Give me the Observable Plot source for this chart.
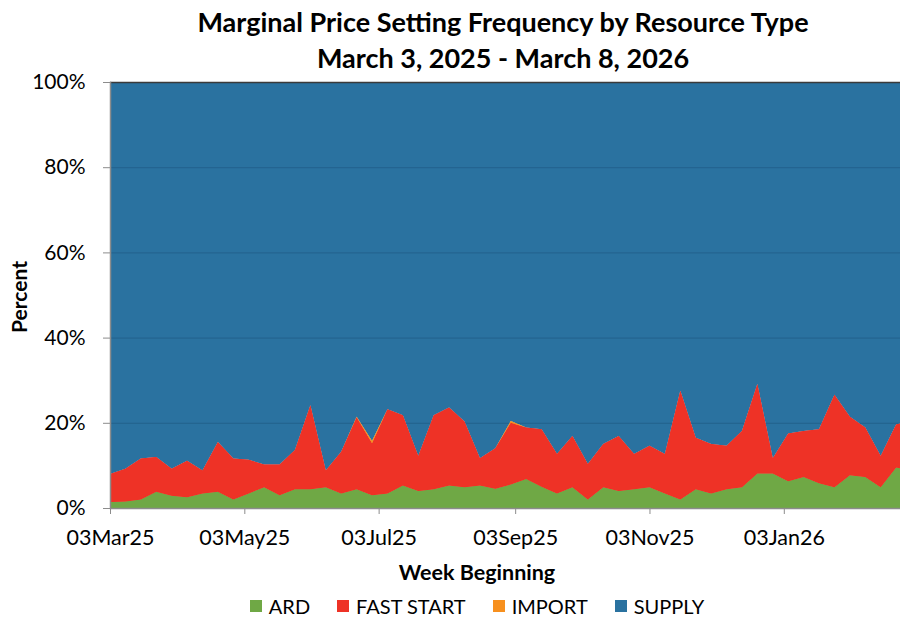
<!DOCTYPE html>
<html>
<head>
<meta charset="utf-8">
<script src="https://cdn.jsdelivr.net/npm/d3@7"></script>
<script src="https://cdn.jsdelivr.net/npm/@observablehq/plot@0.6"></script>
<style>
  html, body { margin: 0; padding: 0; background: #fff; }
  #wrap { position: relative; width: 900px; height: 620px; overflow: hidden; font-family: Lato, "Open Sans", sans-serif; color: #000; }
  #title { position: absolute; left: 106px; width: 794px; top: 4px; text-align: center; font-weight: 700; font-size: 27px; line-height: 36px; white-space: nowrap; }
  #chart { position: absolute; left: 0; top: 0; }
  #xlabel { position: absolute; left: 0; width: 954px; top: 559px; text-align: center; font-weight: 700; font-size: 21.5px; }
  #ylabel { position: absolute; left: 18px; top: 297px; transform: translate(-50%, -50%) rotate(-90deg); font-weight: 700; font-size: 21px; white-space: nowrap; }
  #legend { position: absolute; left: 0; width: 954px; top: 594px; display: flex; justify-content: center; gap: 27px; font-size: 20px; line-height: 24px; }
  #legend .item { display: flex; align-items: center; gap: 7px; }
  #legend .sw { width: 12px; height: 12px; display: inline-block; }
</style>
</head>
<body>
<div id="wrap">
  <div id="chart"></div>
  <div id="title">Marginal Price Setting Frequency by Resource Type<br>March 3, 2025 - March 8, 2026</div>
  <div id="xlabel">Week Beginning</div>
  <div id="ylabel">Percent</div>
  <div id="legend"></div>
</div>
<script>
// ---- Data (percent of intervals, weekly, week beginning 03Mar25 .. 02Mar26) ----
const seriesNames = ["ARD", "FAST START", "IMPORT", "SUPPLY"];
const seriesColors = ["#6FA845", "#EE3226", "#F7901E", "#2A72A0"];

const firstWeek = "2025-03-03";

const ard = [1.4, 1.5, 2.0, 3.8, 2.9, 2.5, 3.4, 3.8, 2.0, 3.4,
             4.9, 3.0, 4.4, 4.4, 4.9, 3.4, 4.4, 3.0, 3.4, 5.3,
             4.0, 4.4, 5.3, 4.9, 5.3, 4.5, 5.5, 6.8, 5.0, 3.4,
             4.9, 2.0, 4.9, 4.0, 4.4, 4.9, 3.4, 2.0, 4.4, 3.4,
             4.4, 4.9, 8.1, 8.1, 6.3, 7.3, 5.8, 4.9, 7.7, 7.3,
             4.9, 9.5, 8.8];
const fastStart = [6.6, 7.7, 9.6, 8.2, 6.3, 8.6, 5.4, 11.7, 9.6, 7.9,
                   5.3, 7.2, 9.2, 19.7, 3.9, 9.8, 16.9, 12.2, 19.8, 16.5,
                   8.2, 17.4, 18.3, 15.4, 6.4, 9.5, 14.5, 12.1, 13.5, 9.3,
                   12.0, 8.3, 10.1, 12.9, 8.3, 9.7, 9.3, 25.5, 12.1, 11.6,
                   10.2, 13.2, 21.0, 3.6, 11.2, 10.8, 12.7, 21.7, 13.7, 11.6,
                   7.3, 10.1, 11.7];
const importPct = [0, 0, 0, 0, 0, 0, 0, 0, 0, 0,
                   0, 0, 0, 0, 0, 0, 0.1, 0.5, 0, 0,
                   0, 0, 0, 0, 0, 0, 0.4, 0, 0, 0,
                   0, 0, 0, 0, 0, 0, 0, 0, 0, 0,
                   0, 0, 0, 0, 0, 0, 0, 0, 0, 0,
                   0, 0, 0];
const supply = [92.0, 90.8, 88.4, 88.0, 90.8, 88.9, 91.2, 84.5, 88.4, 88.7,
                89.8, 89.8, 86.4, 75.9, 91.2, 86.8, 78.6, 84.3, 76.8, 78.2,
                87.8, 78.2, 76.4, 79.7, 88.3, 86.0, 79.6, 81.1, 81.5, 87.3,
                83.1, 89.7, 85.0, 83.1, 87.3, 85.4, 87.3, 72.5, 83.5, 85.0,
                85.4, 81.9, 70.9, 88.3, 82.5, 81.9, 81.5, 73.4, 78.6, 81.1,
                87.8, 80.4, 79.5];

const yTicks = [0, 20, 40, 60, 80, 100];
const xTickLabels = ["03Mar25", "03May25", "03Jul25", "03Sep25", "03Nov25", "03Jan26"];
const xTickDates = ["2025-03-03", "2025-05-03", "2025-07-03", "2025-09-03", "2025-11-03", "2026-01-03"];
const xDomain = ["2025-03-03", "2026-02-24T18:30:00Z"];

// ---- Build table ----
const weeks = d3.range(ard.length).map(i => d3.utcDay.offset(new Date(firstWeek), 7 * i));
const seriesValues = [ard, fastStart, importPct, supply];
const rows = [];
seriesNames.forEach((name, s) => {
  weeks.forEach((w, i) => rows.push({week: w, type: name, value: seriesValues[s][i]}));
});
const lower = rows.filter(d => d.type !== "SUPPLY");

const tickDates = xTickDates.map(s => new Date(s));
const labelFor = new Map(tickDates.map((d, i) => [+d, xTickLabels[i]]));

const areaOpts = {x: "week", y: "value", z: "type", fill: "type", order: seriesNames, clip: true};

const chart = Plot.plot({
  width: 900,
  height: 620,
  marginTop: 82,
  marginBottom: 112,
  marginLeft: 110,
  marginRight: 0,
  style: {fontFamily: "Lato, 'Open Sans', sans-serif", fontSize: "21px", color: "#000", background: "transparent", overflow: "visible"},
  x: {type: "utc", domain: xDomain.map(s => new Date(s))},
  y: {domain: [0, 100]},
  color: {domain: seriesNames, range: seriesColors},
  marks: [
    Plot.areaY(rows, areaOpts),
    Plot.ruleY(yTicks.filter(t => t > 0 && t < 100), {stroke: "#14466b", strokeOpacity: 0.35}),
    Plot.areaY(lower, areaOpts),
    Plot.ruleY([100], {stroke: "#3a3a3a", strokeWidth: 1.5}),
    Plot.ruleY([0], {stroke: "#8c8c8c", strokeWidth: 1.5}),
    Plot.frame({anchor: "left", stroke: "#8c8c8c", strokeWidth: 1.5}),
    Plot.axisY({ticks: yTicks, tickFormat: d => d + "%", tickSize: 7, tickPadding: 18, stroke: "#8c8c8c", fill: "#000", label: null, fontSize: 21}),
    Plot.axisX({ticks: tickDates, tickFormat: d => labelFor.get(+d), tickSize: 6, tickPadding: 15, stroke: "#8c8c8c", fill: "#000", label: null, fontSize: 21.5})
  ]
});
document.getElementById("chart").appendChild(chart);

// ---- Legend ----
const legend = document.getElementById("legend");
seriesNames.forEach((name, i) => {
  const item = document.createElement("div");
  item.className = "item";
  const sw = document.createElement("span");
  sw.className = "sw";
  sw.style.background = seriesColors[i];
  const tx = document.createElement("span");
  tx.textContent = name;
  item.appendChild(sw);
  item.appendChild(tx);
  legend.appendChild(item);
});
</script>
</body>
</html>
